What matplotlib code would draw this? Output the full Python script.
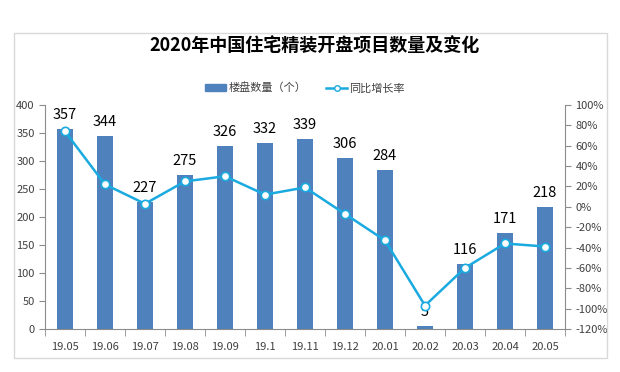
import matplotlib
matplotlib.use("Agg")
import matplotlib.pyplot as plt
from matplotlib.patches import Rectangle
from matplotlib.lines import Line2D
from matplotlib.ticker import FuncFormatter, MultipleLocator

plt.rcParams['font.family'] = ['Noto Sans CJK SC', 'DejaVu Sans']

categories = ["19.05", "19.06", "19.07", "19.08", "19.09", "19.1", "19.11",
              "19.12", "20.01", "20.02", "20.03", "20.04", "20.05"]
counts = [357, 344, 227, 275, 326, 332, 339, 306, 284, 5, 116, 171, 218]
growth = [74, 22, 3, 25, 30, 12, 19, -7, -33, -97, -60, -36, -39]

bar_color = "#4F81BD"
line_color = "#1AAAE0"
axis_gray = "#8C8C8C"
text_gray = "#404040"

fig = plt.figure(figsize=(6.2, 3.72), dpi=100)
fig.patch.set_facecolor("white")

# outer chart border
fig.add_artist(Rectangle((14/620, 1-358/372), (607-14)/620, (358-33)/372,
                         transform=fig.transFigure, fill=False,
                         edgecolor="#D9D9D9", linewidth=1))

ax = fig.add_axes([45/620, 1-329/372, (565-45)/620, (329-105)/372])
x = list(range(len(categories)))
ax.bar(x, counts, width=0.4, color=bar_color, zorder=2)
ax.set_ylim(0, 400)
ax.set_xlim(-0.5, len(categories)-0.5)
ax.yaxis.set_major_locator(MultipleLocator(50))
ax.set_xticks(x)
ax.set_xticklabels(categories)
ax.set_xticks([i + 0.5 for i in range(-1, len(categories))], minor=True)
ax.tick_params(axis='x', which='major', length=0, labelsize=8, colors=text_gray, pad=9)
ax.tick_params(axis='x', which='minor', length=5, color=axis_gray, direction='out')
ax.tick_params(axis='y', labelsize=8, colors=text_gray, length=4, color=axis_gray)
ax.spines["top"].set_visible(False)
ax.spines["right"].set_visible(False)
for s in ["left", "bottom"]:
    ax.spines[s].set_color(axis_gray)

for xi, v in zip(x, counts):
    ax.annotate(str(v), (xi, v), xytext=(0, 5), textcoords="offset points",
                ha="center", va="bottom", fontsize=10.5, color="black", zorder=5)

ax2 = ax.twinx()
ax2.plot(x, growth, color=line_color, linewidth=1.8, marker="o", markersize=6,
         markerfacecolor="white", markeredgecolor=line_color, markeredgewidth=1.2, zorder=4)
ax2.set_ylim(-120, 100)
ax2.yaxis.set_major_locator(MultipleLocator(20))
ax2.yaxis.set_major_formatter(FuncFormatter(lambda v, p: f"{int(round(v))}%"))
ax2.tick_params(axis='y', labelsize=8, colors=text_gray, length=4, color=axis_gray)
ax2.spines["top"].set_visible(False)
ax2.spines["left"].set_visible(False)
ax2.spines["bottom"].set_visible(False)
ax2.spines["right"].set_color(axis_gray)

fig.text(315/620, 1-45/372, "2020年中国住宅精装开盘项目数量及变化",
         ha="center", va="center", fontsize=13, fontweight="bold", color="black")

handles = [Rectangle((0, 0), 1, 1, color=bar_color),
           Line2D([0], [0], color=line_color, linewidth=1.8, marker="o", markersize=4,
                  markerfacecolor="white", markeredgecolor=line_color)]
fig.legend(handles, ["楼盘数量（个）", "同比增长率"], loc="center",
           bbox_to_anchor=(305/620, 1-88/372), ncol=2, frameon=False,
           fontsize=8, handlelength=1.9, handleheight=0.6, columnspacing=1.8,
           handletextpad=0.2, labelcolor=text_gray)

fig.savefig("out.png", dpi=100)
